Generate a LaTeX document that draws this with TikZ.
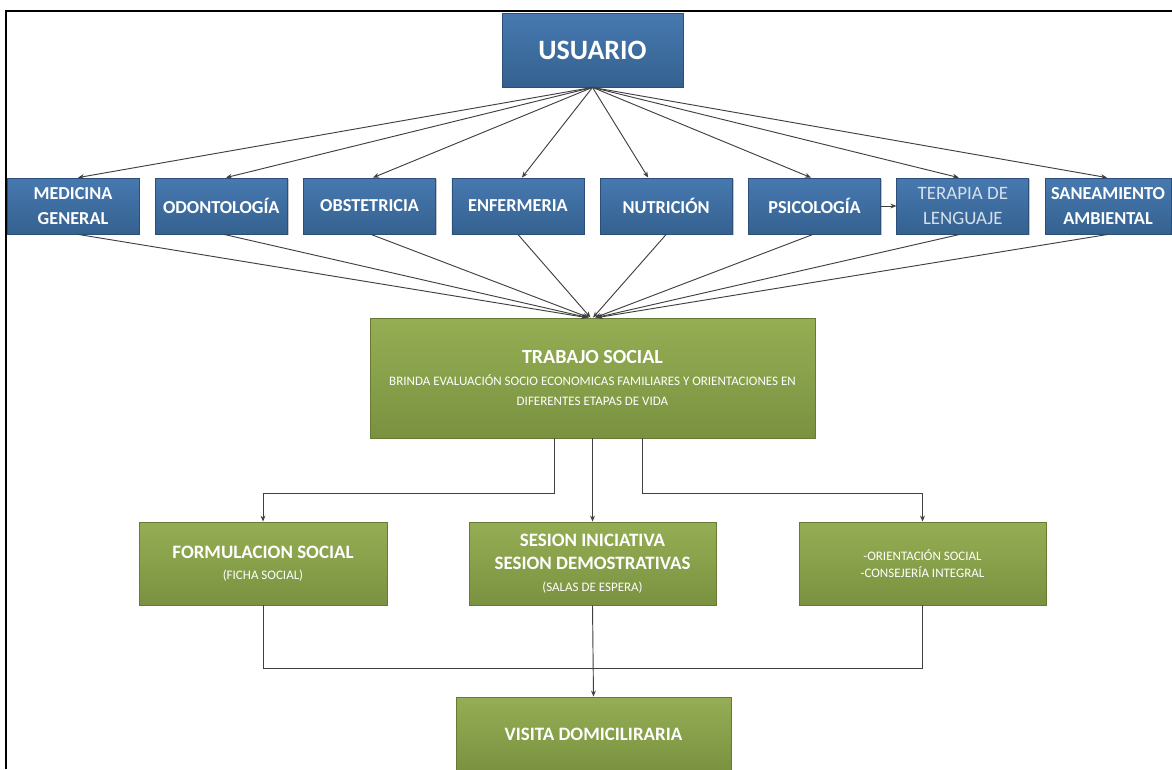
\documentclass[tikz,border=0pt]{standalone}
\usepackage{fontspec}
\setmainfont{Carlito}
\usetikzlibrary{arrows.meta,shadows}

\definecolor{bluetop}{HTML}{4779B0}
\definecolor{bluebot}{HTML}{34618F}
\definecolor{bluedge}{HTML}{2B4F78}
\definecolor{greentop}{HTML}{95AE54}
\definecolor{greenbot}{HTML}{7A9240}
\definecolor{greenedge}{HTML}{667A33}
\definecolor{linegray}{HTML}{404040}
\definecolor{paletext}{HTML}{D6E1EE}

\def\pu{0.75pt}

\tikzset{
  boxbase/.style={rectangle, inner sep=0pt, align=center, text=white, line width=0.6pt,
    drop shadow={shadow xshift=1pt, shadow yshift=-1pt, opacity=0.22, fill=black}},
  bluebox/.style={boxbase, draw=bluedge, top color=bluetop, bottom color=bluebot,
    minimum width=132*\pu, minimum height=56*\pu,
    font=\bfseries\fontsize{13.7}{18.75}\selectfont},
  greenbox/.style={boxbase, draw=greenedge, top color=greentop, bottom color=greenbot},
  conn/.style={draw=linegray, line width=0.7pt},
  arr/.style={conn, -{Stealth[length=4.5pt, width=3.6pt]}},
}

\newcommand\bigtitle{\bfseries\fontsize{14.2}{17.25}\selectfont}
\newcommand\smalltext{\mdseries\fontsize{9.75}{14.5}\selectfont}

\begin{document}
\begin{tikzpicture}[x=0.75pt, y=-0.75pt]
\useasboundingbox (0,0) rectangle (1172,769);
\fill[white] (0,0) rectangle (1172,769);

% top node
\node[bluebox, minimum width=181*\pu, minimum height=74*\pu,
      font=\bfseries\fontsize{21}{24}\selectfont] (usr) at (592.5,50) {USUARIO};

% services row
\node[bluebox] (med) at (73,206)    {MEDICINA\\GENERAL};
\node[bluebox] (odo) at (221.3,206) {ODONTOLOGÍA};
\node[bluebox] (obs) at (369.6,206) {OBSTETRICIA};
\node[bluebox] (enf) at (517.9,206) {ENFERMERIA};
\node[bluebox] (nut) at (666.2,206) {NUTRICIÓN};
\node[bluebox] (psi) at (814.5,206) {PSICOLOGÍA};
\node[bluebox, text=paletext, font=\mdseries\fontsize{14.2}{18.75}\selectfont]
      (ter) at (962.8,206) {TERAPIA DE\\LENGUAJE};
\node[bluebox, minimum width=126*\pu] (san) at (1108,206) {SANEAMIENTO\\AMBIENTAL};

% social work
\node[greenbox, minimum width=445*\pu, minimum height=120*\pu, font=\smalltext] (trab) at (592.5,378)
  {{\bfseries\fontsize{15}{16.5}\selectfont TRABAJO SOCIAL}\\[2pt]
   BRINDA EVALUACIÓN SOCIO ECONOMICAS FAMILIARES Y ORIENTACIONES EN\\
   DIFERENTES ETAPAS DE VIDA};

% activities
\node[greenbox, minimum width=248*\pu, minimum height=83*\pu, font=\smalltext] (form) at (263,563.5)
  {{\bigtitle FORMULACION SOCIAL}\\[1.5pt]{\smalltext (FICHA SOCIAL)}};
\node[greenbox, minimum width=247*\pu, minimum height=83*\pu, font=\bigtitle] (ses) at (592.5,563.5)
  {SESION INICIATIVA\\SESION DEMOSTRATIVAS\\[-1pt]{\smalltext (SALAS DE ESPERA)}};
\node[greenbox, minimum width=247*\pu, minimum height=83*\pu, font=\mdseries\fontsize{9.75}{12.75}\selectfont] (ori) at (922.5,563.5)
  {-ORIENTACIÓN SOCIAL\\-CONSEJERÍA INTEGRAL};

% home visit
\node[greenbox, minimum width=275*\pu, minimum height=74*\pu, font=\bigtitle] (vis) at (593.5,734)
  {VISITA DOMICILIRARIA};

% user to services
\draw[arr] (usr.south) -- ([xshift=5*\pu]med.north);
\draw[arr] (usr.south) -- ([xshift=4.7*\pu]odo.north);
\draw[arr] (usr.south) -- ([xshift=3.4*\pu]obs.north);
\draw[arr] (usr.south) -- ([xshift=4*\pu]enf.north);
\draw[arr] (usr.south) -- ([xshift=-18*\pu]nut.north);
\draw[arr] (usr.south) -- ([xshift=-3.5*\pu]psi.north);
\draw[arr] (usr.south) -- ([xshift=-4*\pu]ter.north);
\draw[arr] (usr.south) -- ([xshift=-1*\pu]san.north);
\draw[arr] (psi.east) -- (ter.west);

% services to social work
\draw[arr] ([xshift=5*\pu]med.south)    -- ([xshift=-5.5*\pu]trab.north);
\draw[arr] ([xshift=2.7*\pu]odo.south)  -- ([xshift=-4.5*\pu]trab.north);
\draw[arr] ([xshift=1.4*\pu]obs.south)  -- ([xshift=-3.5*\pu]trab.north);
\draw[arr] (enf.south)                  -- ([xshift=-2*\pu]trab.north);
\draw[arr] (nut.south)                  -- ([xshift=0.5*\pu]trab.north);
\draw[arr] ([xshift=-1.5*\pu]psi.south) -- ([xshift=2.5*\pu]trab.north);
\draw[arr] ([xshift=-3*\pu]ter.south)   -- ([xshift=3.5*\pu]trab.north);
\draw[arr] (san.south)                  -- ([xshift=4.5*\pu]trab.north);

% social work to activities
\draw[arr] ([xshift=-38.5*\pu]trab.south) -- ++(0,55) -| (form.north);
\draw[arr] (trab.south) -- (ses.north);
\draw[arr] ([xshift=49.5*\pu]trab.south) -- ++(0,55) -| (ori.north);

% activities to home visit
\draw[conn] (form.south) -- ++(0,63) -| (ori.south);
\draw[arr] (ses.south) -- (vis.north);

% frame
\draw[black, line width=1.5pt, line join=miter] (5.5,769) -- (5.5,11) -- (1172,11);
\end{tikzpicture}
\end{document}
